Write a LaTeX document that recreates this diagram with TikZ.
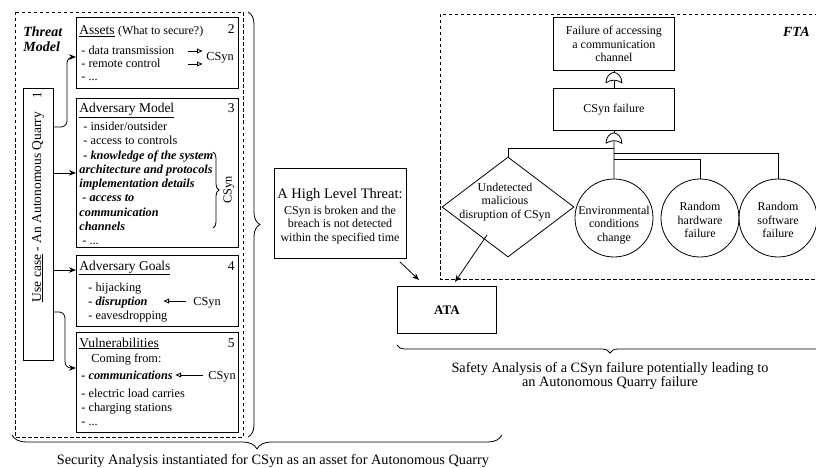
\documentclass[tikz,border=0pt]{standalone}
\usepackage{fontspec}
\setmainfont{Liberation Serif}
\usetikzlibrary{arrows.meta,decorations.pathreplacing,shapes.geometric,calc}

\begin{document}
\begin{tikzpicture}[x=1pt,y=-1pt,line width=0.8pt,
  every node/.style={inner sep=0pt},
  card/.style={draw,anchor=north west,line width=0.8pt},
  panel/.style={draw,dash pattern=on 3.5pt off 2.5pt,line width=0.8pt},
  head/.style={anchor=base west,font=\fontsize{13.5}{16}\selectfont},
  item/.style={anchor=base west,font=\fontsize{12.3}{14}\selectfont},
  bitem/.style={anchor=base west,font=\fontsize{12.3}{14}\selectfont\bfseries\itshape},
  num/.style={anchor=base east,font=\fontsize{13.5}{15}\selectfont},
  tag/.style={anchor=base west,font=\fontsize{12.3}{14}\selectfont},
  label/.style={anchor=base,font=\fontsize{14.3}{16}\selectfont},
  ftatext/.style={align=center,font=\fontsize{12}{13.5}\selectfont},
  arr/.style={-{Stealth[length=7pt,width=5.5pt]}},
  oarr/.style={-{Latex[open,length=6pt,width=5.5pt]}},
  curly/.style={decorate,decoration={brace,amplitude=#1}},
  orgate/.pic={\draw[fill=white] (-8,5) .. controls (-8,-1) and (-4,-5) .. (0,-5.5)
      .. controls (4,-5) and (8,-1) .. (8,5) .. controls (3,1.5) and (-3,1.5) .. (-8,5);}
]
\useasboundingbox (0,0) rectangle (816,468);

% ---------------- Threat model ----------------
\draw[panel] (15,12) rectangle (243,437);
\node[anchor=base west,font=\fontsize{14}{16}\selectfont\bfseries\itshape] (tm1) at (23,37) {Threat};
\node[anchor=base west,font=\fontsize{14}{16}\selectfont\bfseries\itshape] (tm2) at (23,52) {Model};

% use case
\node[card,minimum width=30pt,minimum height=272pt] (usecase) at (23,88) {};
\node[rotate=90,font=\fontsize{13.5}{15}\selectfont] (uctext) at (38,207) {\underline{Use case} - An Autonomous Quarry};
\node[rotate=90,font=\fontsize{13}{15}\selectfont] (ucnum) at (37,95) {1};

% assets
\node[card,minimum width=162pt,minimum height=71pt] (assets) at (76,17) {};
\node[head] (assetsh) at (79,35) {\underline{Assets} {\fontsize{12}{14}\selectfont (What to secure?)}};
\node[num] (n2) at (235,34) {2};
\node[item] (a1) at (81,55) {- data transmission};
\node[item] (a2) at (81,68) {- remote control};
\node[item] (a3) at (81,81) {- ...};
\node[tag] (csynA) at (206,61) {CSyn};
\coordinate (aa1) at (188,51);
\coordinate (ab1) at (203,51);
\coordinate (aa2) at (188,64);
\coordinate (ab2) at (203,64);
\draw[oarr] (aa1) -- (ab1);
\draw[oarr] (aa2) -- (ab2);

% adversary model
\node[card,minimum width=162pt,minimum height=149pt] (advm) at (76,98) {};
\node[head] (advmh) at (79,113) {\underline{Adversary Model}};
\node[num] (n3) at (235,113) {3};
\node[item] (m1) at (83,131) {- insider/outsider};
\node[item] (m2) at (83,145) {- access to controls};
\node[bitem] (m3) at (83,159) {- knowledge of the system};
\node[bitem] (m4) at (79,173) {architecture and protocols};
\node[bitem] (m5) at (79,187) {implementation details};
\node[bitem] (m6) at (82,201) {- access to};
\node[bitem] (m7) at (79,216) {communication};
\node[bitem] (m8) at (79,230) {channels};
\node[item] (m9) at (82,244) {- ...};
\draw[curly=6pt] (213,152) -- (213,228);
\node[rotate=90,font=\fontsize{12.3}{14}\selectfont] (csynM) at (229,190) {CSyn};

% adversary goals
\node[card,minimum width=162pt,minimum height=71pt] (goals) at (76,255) {};
\node[head] (goalsh) at (79,270) {\underline{Adversary Goals}};
\node[num] (n4) at (235,270) {4};
\node[item] (g1) at (88,291) {- hijacking};
\node[bitem] (g2) at (88,305) {- disruption};
\node[item] (g3) at (88,319) {- eavesdropping};
\node[tag] (csynG) at (193,305) {CSyn};
\coordinate (gs) at (186,301);
\coordinate (ge) at (163,301);
\draw[oarr] (gs) -- (ge);

% vulnerabilities
\node[card,minimum width=162pt,minimum height=100pt] (vuln) at (76,332) {};
\node[head] (vulnh) at (79,347) {\underline{Vulnerabilities}};
\node[num] (n5) at (235,347) {5};
\node[item] (v0) at (91,362) {Coming from:};
\node[bitem] (v1) at (81,379) {- communications};
\node[item] (v2) at (81,397) {- electric load carries};
\node[item] (v3) at (81,411) {- charging stations};
\node[item] (v4) at (81,425) {- ...};
\node[tag] (csynV) at (208,379) {CSyn};
\coordinate (vs) at (203,375);
\coordinate (ve) at (175,375);
\draw[oarr] (vs) -- (ve);

% use case links
\draw[arr,rounded corners=6pt] ($(usecase.north east)+(0,39)$) -| ($(assets.north west)+(-9,40)$) -- ($(assets.north west)+(0,40)$);
\draw[arr] (usecase.east |- advm.west) -- (advm.west);
\draw[arr] ($(usecase.north east)+(0,182)$) -- ($(goals.north west)+(0,15)$);
\draw[arr,rounded corners=6pt] ($(usecase.north east)+(0,224)$) -| ($(vuln.north west)+(-11,36)$) -- ($(vuln.north west)+(0,36)$);

% braces around the security part
\draw[curly=12pt] (248,12) -- (248,437);
\draw[curly=14pt] (502,435) -- (12,435);
\node[label] (secCap) at (273,464) {Security Analysis instantiated for CSyn as an asset for Autonomous Quarry};

% ---------------- High level threat ----------------
\node[card,minimum width=132pt,minimum height=90pt] (hlt) at (274,168) {};
\node[anchor=base,font=\fontsize{14.5}{16}\selectfont] (hlth) at (340,198) {A High Level Threat:};
\node[anchor=base,font=\fontsize{12}{14}\selectfont] (hlt1) at (340,214) {CSyn is broken and the};
\node[anchor=base,font=\fontsize{12}{14}\selectfont] (hlt2) at (340,227) {breach is not detected};
\node[anchor=base,font=\fontsize{12}{14}\selectfont] (hlt3) at (340,241) {within the specified time};

% ATA
\node[card,minimum width=99pt,minimum height=47pt,font=\fontsize{13}{15}\selectfont\bfseries] (ata) at (397,286) {ATA};
\draw[arr] ($(hlt.south east)+(-7,3)$) -- ($(ata.north west)+(22,-6)$);

% ---------------- FTA ----------------
\draw[panel] (818,14) -- (440,14) -- (440,279) -- (818,279);
\node[anchor=base east,font=\fontsize{14}{16}\selectfont\bfseries\itshape] (fta) at (810,37) {FTA};
\node[card,minimum width=121pt,minimum height=53pt,ftatext] (topev) at (553,17) {Failure of accessing\\a communication\\channel};
\node[card,minimum width=121pt,minimum height=42pt,ftatext] (csynf) at (553,88) {CSyn failure};
\node[draw,diamond,minimum width=132pt,minimum height=100pt] (diam) at (508,207) {};
\node[ftatext] (diamt) at (505,202) {Undetected\\malicious\\disruption of CSyn};
\node[draw,circle,minimum size=78pt] (env) at (614,218) {};
\node[ftatext] (envt) at (614,225) {Environmental\\conditions\\change};
\node[draw,circle,minimum size=78pt] (hard) at (700,218) {};
\node[ftatext] (hardt) at (700,220) {Random\\hardware\\failure};
\node[draw,circle,minimum size=78pt] (soft) at (778,218) {};
\node[ftatext] (softt) at (778,220) {Random\\software\\failure};

% gates and links
\coordinate (gt1) at ($(topev.south)+(0,7)$);
\coordinate (gt2) at ($(csynf.south)+(0,7.5)$);
\draw (topev.south) -- ($(gt1)+(0,-5)$);
\draw ($(gt1)+(0,3)$) -- (csynf.north);
\draw (csynf.south) -- ($(gt2)+(0,-5)$);
\draw ($(gt2)+(0,3)$) -- (env.north);
\draw ($(gt2)+(0,10)$) -| (diam.north);
\draw ($(gt2)+(0,15.5)$) -| (soft.north);
\draw ($(gt2)+(0,21)$) -| (hard.north);
\pic at (gt1) {orgate};
\pic at (gt2) {orgate};

\draw[arr] ($(diam.center)+(-21,28)$) -- ($(ata.north west)+(58,-4)$);

% brace around the safety part
\draw[curly=8pt] (823,345) -- (397,345);
\node[label] (safCap1) at (610,372) {Safety Analysis of a CSyn failure potentially leading to};
\node[label] (safCap2) at (610,386) {an Autonomous Quarry failure};
\end{tikzpicture}
\end{document}
